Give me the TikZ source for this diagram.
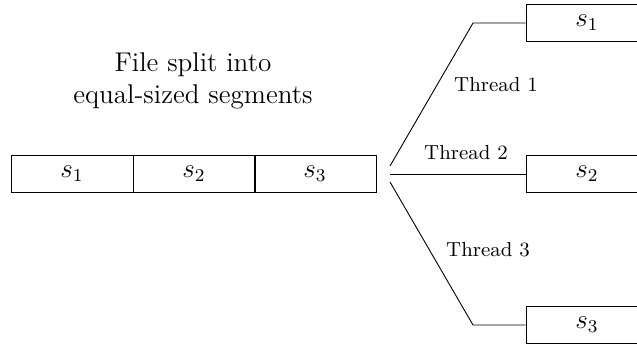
\documentclass[tikz,border=0pt]{standalone}
\usepackage{amsmath}
\usepackage{tikz}

\tikzset{seg/.style={draw,minimum width=54pt,minimum height=16pt,inner sep=0pt,font=\large}}

\begin{document}
\begin{tikzpicture}[x=0.443pt,y=-0.443pt]
          \clip (0,0) rectangle (637,343);
          % file and its segments
          \node[seg] (f1) at (72,174) {$s_1$};
          \node[seg] (f2) at (194,174) {$s_2$};
          \node[seg] (f3) at (315,174) {$s_3$};
          \node[align=center,font=\large] (title) at (193,81) {File split into\\equal-sized segments};
          % one segment per thread
          \node[seg] (t1) at (587,23) {$s_1$};
          \node[seg] (t2) at (587,174) {$s_2$};
          \node[seg] (t3) at (587,325) {$s_3$};
          \coordinate (j1) at (390,166);
          \coordinate (j2) at (390,174);
          \coordinate (j3) at (390,182);
          \coordinate (b1) at (473,23);
          \coordinate (b3) at (473,325);
          \draw (j1) -- (b1) -- (t1.west);
          \draw (j2) -- (t2.west);
          \draw (j3) -- (b3) -- (t3.west);
          \node[font=\small] (l1) at (496,85) {Thread 1};
          \node[font=\small] (l2) at (466,153) {Thread 2};
          \node[font=\small] (l3) at (488,250) {Thread 3};
        \end{tikzpicture}
\end{document}
